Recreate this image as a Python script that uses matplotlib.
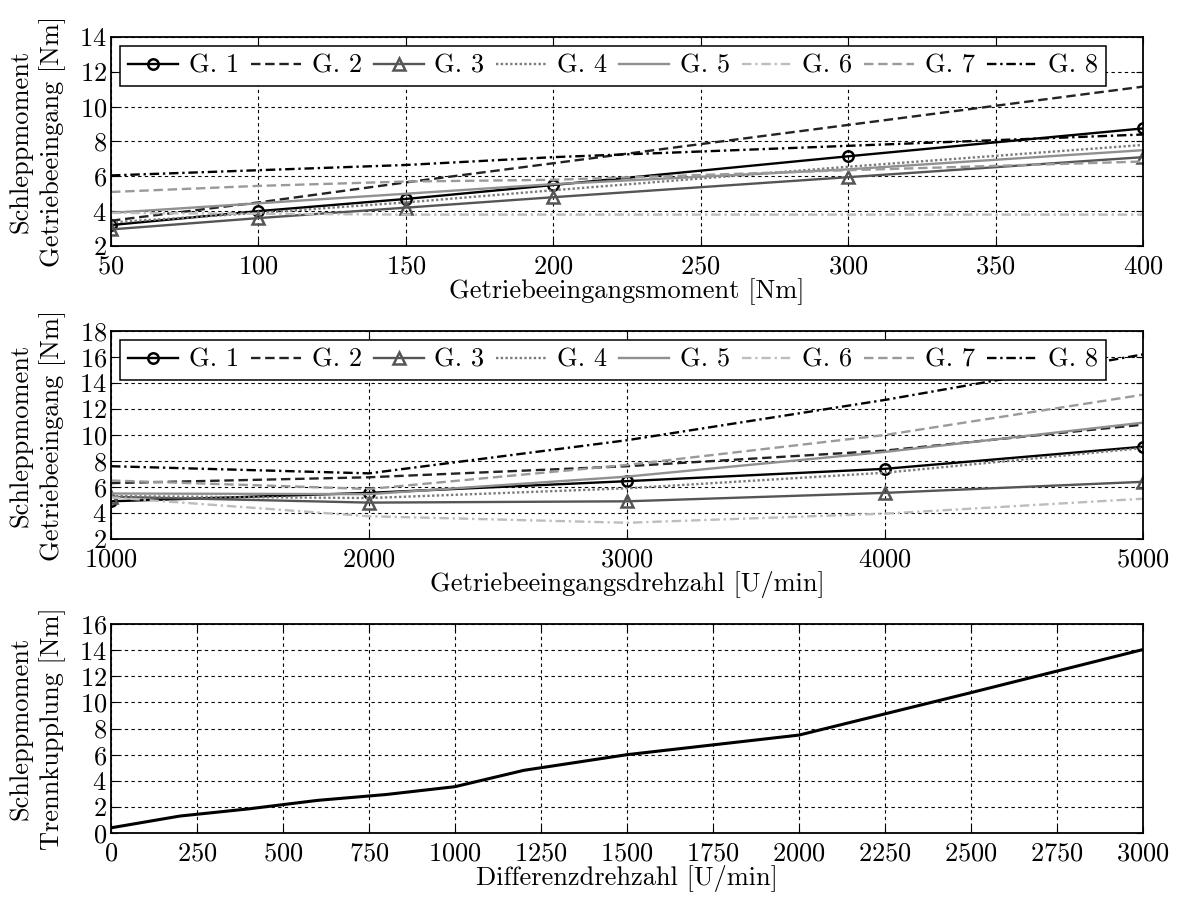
import matplotlib
matplotlib.use('Agg')
import matplotlib.pyplot as plt

# Schleppmoment ueber Eingangsmoment (Gang 1-8)
moment = [50, 100, 150, 200, 300, 400]
moment_g = {
    'G. 1': [3.2, 4.0, 4.7, 5.5, 7.15, 8.75],
    'G. 2': [3.45, 4.5, 5.65, 6.75, 8.95, 11.15],
    'G. 3': [2.95, 3.6, 4.2, 4.8, 5.95, 7.1],
    'G. 4': [3.35, 3.9, 4.5, 5.2, 6.55, 7.8],
    'G. 5': [3.9, 4.45, 5.0, 5.55, 6.4, 7.5],
    'G. 6': [3.9, 3.85, 3.8, 3.8, 3.8, 3.8],
    'G. 7': [5.1, 5.45, 5.7, 5.8, 6.35, 6.85],
    'G. 8': [6.05, 6.35, 6.65, 7.1, 7.75, 8.4],
}

# Schleppmoment ueber Eingangsdrehzahl (Gang 1-8)
drehzahl = [1000, 2000, 3000, 4000, 5000]
drehzahl_g = {
    'G. 1': [4.9, 5.55, 6.45, 7.4, 9.1],
    'G. 2': [6.3, 6.75, 7.6, 8.8, 10.8],
    'G. 3': [5.25, 4.8, 4.9, 5.55, 6.4],
    'G. 4': [5.3, 5.15, 5.9, 7.1, 9.0],
    'G. 5': [5.5, 5.45, 6.8, 8.7, 10.95],
    'G. 6': [5.2, 3.75, 3.25, 3.95, 5.1],
    'G. 7': [6.5, 5.85, 7.7, 10.0, 13.1],
    'G. 8': [7.6, 7.05, 9.6, 12.7, 16.2],
}

# Schleppmoment Trennkupplung ueber Differenzdrehzahl
diff_n = [0, 200, 400, 600, 800, 1000, 1200, 1500, 2000, 2500, 3000]
diff_m = [0.4, 1.3, 1.85, 2.5, 2.95, 3.55, 4.8, 6.0, 7.5, 10.75, 14.05]

# Linienstile je Gang
stil = {
    'G. 1': dict(color='black', ls='-', marker='o', ms=7.5),
    'G. 2': dict(color='#222222', ls=(0, (4, 2))),
    'G. 3': dict(color='#555555', ls='-', marker='^', ms=9),
    'G. 4': dict(color='#7a7a7a', ls=(0, (1, 1))),
    'G. 5': dict(color='#909090', ls='-'),
    'G. 6': dict(color='#bdbdbd', ls=(0, (4, 1.6, 1, 1.6))),
    'G. 7': dict(color='#9a9a9a', ls=(0, (4, 2))),
    'G. 8': dict(color='black', ls=(0, (4, 1.6, 1, 1.6))),
}

plt.rcParams['font.family'] = 'serif'
plt.rcParams['font.serif'] = ['cmr10']
plt.rcParams['mathtext.fontset'] = 'cm'
plt.rcParams['axes.formatter.use_mathtext'] = True
plt.rcParams['font.size'] = 19

fig = plt.figure(figsize=(11.77, 9), dpi=100)
links, breite = 111 / 1177, 1032 / 1177
ax1 = fig.add_axes([links, 0.7267, breite, 0.2322])
ax2 = fig.add_axes([links, 0.4011, breite, 0.2311])
ax3 = fig.add_axes([links, 0.0744, breite, 0.2322])


def gitter(ax):
    ax.grid(True, color='black', ls=(0, (3, 3)), lw=0.8)
    ax.tick_params(direction='in', top=True, right=True, length=5)
    ax.tick_params(axis='x', pad=6)
    ax.tick_params(axis='y', pad=3)
    for s in ax.spines.values():
        s.set_linewidth(1.3)


def gaenge(ax, x, daten):
    for name, y in daten.items():
        st = stil[name]
        ax.plot(x, y, color=st['color'], ls=st['ls'], lw=1.7,
                marker=st.get('marker', None), markersize=st.get('ms', 0),
                markerfacecolor='none', markeredgewidth=1.8, label=name)
    leg = ax.legend(loc='upper left', ncol=8, fancybox=False, framealpha=1,
                    edgecolor='black', handlelength=1.9, handletextpad=0.4,
                    columnspacing=0.45, borderpad=0.3, borderaxespad=0.35,
                    fontsize=19)
    leg.get_frame().set_linewidth(1.1)


gaenge(ax1, moment, moment_g)
ax1.set_xlim(50, 400)
ax1.set_ylim(2, 14)
ax1.set_yticks(range(2, 15, 2))
ax1.set_xlabel('Getriebeeingangsmoment [Nm]', labelpad=0)
ax1.set_ylabel('Schleppmoment\nGetriebeeingang [Nm]', linespacing=1.3)
gitter(ax1)

gaenge(ax2, drehzahl, drehzahl_g)
ax2.set_xlim(1000, 5000)
ax2.set_ylim(2, 18)
ax2.set_xticks(drehzahl)
ax2.set_yticks(range(2, 19, 2))
ax2.set_xlabel('Getriebeeingangsdrehzahl [U/min]', labelpad=0)
ax2.set_ylabel('Schleppmoment\nGetriebeeingang [Nm]', linespacing=1.3)
gitter(ax2)

ax3.plot(diff_n, diff_m, color='black', lw=2.2)
ax3.set_xlim(0, 3000)
ax3.set_ylim(0, 16)
ax3.set_xticks(range(0, 3001, 250))
ax3.set_yticks(range(0, 17, 2))
ax3.set_xlabel('Differenzdrehzahl [U/min]', labelpad=0)
ax3.set_ylabel('Schleppmoment\nTrennkupplung [Nm]', linespacing=1.3)
gitter(ax3)

for ax in (ax1, ax2, ax3):
    ax.yaxis.set_label_coords(-0.044, 0.5)

fig.savefig('out.png', dpi=100)
